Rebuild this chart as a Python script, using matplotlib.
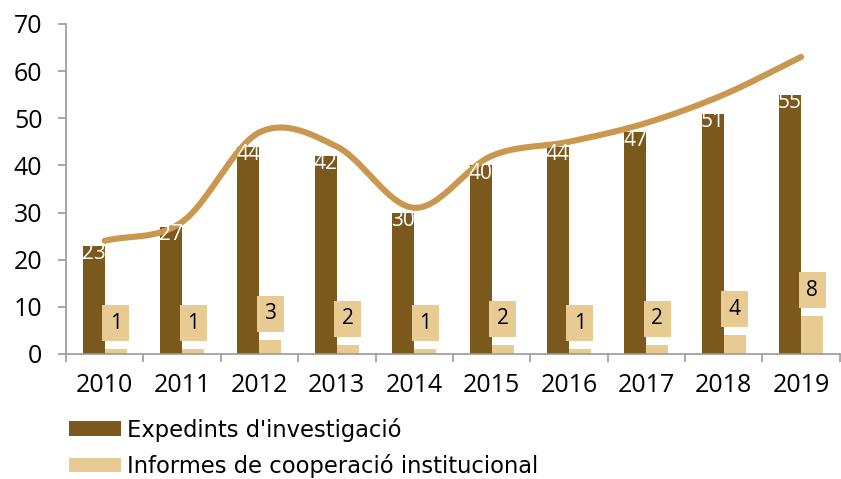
import matplotlib.pyplot as plt
import numpy as np

plt.rcParams['font.family'] = ['Open Sans', 'DejaVu Sans']

years = ['2010', '2011', '2012', '2013', '2014', '2015', '2016', '2017', '2018', '2019']
expedients = [23, 27, 44, 42, 30, 40, 44, 47, 51, 55]
informes = [1, 1, 3, 2, 1, 2, 1, 2, 4, 8]
totals = [24, 28, 47, 44, 31, 42, 45, 49, 55, 63]

dark = '#7B581C'
light = '#E8CB93'
line_col = '#C9984E'


def smooth(x, y, n=30):
    # catmull-rom curve through the points (like excel's smoothed line)
    x = np.asarray(x, float)
    y = np.asarray(y, float)
    px = np.concatenate([[2 * x[0] - x[1]], x, [2 * x[-1] - x[-2]]])
    py = np.concatenate([[2 * y[0] - y[1]], y, [2 * y[-1] - y[-2]]])
    xs, ys = [], []
    t = np.linspace(0, 1, n)
    for i in range(1, len(px) - 2):
        for p, out in ((px, xs), (py, ys)):
            p0, p1, p2, p3 = p[i - 1], p[i], p[i + 1], p[i + 2]
            out.extend(0.5 * (2 * p1 + (-p0 + p2) * t
                              + (2 * p0 - 5 * p1 + 4 * p2 - p3) * t ** 2
                              + (-p0 + 3 * p1 - 3 * p2 + p3) * t ** 3))
    return np.array(xs), np.array(ys)


fig = plt.figure(figsize=(8.41, 4.79), dpi=100)
ax = fig.add_axes([0.0785, 0.261, 0.92, 0.689])

x = np.arange(len(years))
w = 0.285
b1 = ax.bar(x - w / 2, expedients, w, color=dark, label="Expedints d'investigació", zorder=2)
b2 = ax.bar(x + w / 2, informes, w, color=light, label='Informes de cooperació institucional', zorder=2)

sx, sy = smooth(x, totals)
ax.plot(sx, sy, color=line_col, lw=4.4, solid_capstyle='round', zorder=3)

for xi, v in zip(x, expedients):
    ax.text(xi - w / 2, v + 0.6, str(v), color='white', ha='center', va='top',
            fontsize=15, zorder=4)
for xi, v in zip(x, informes):
    ax.text(xi + w / 2, v + 5.5, str(v), color='black', ha='center', va='center',
            fontsize=15, zorder=4,
            bbox=dict(boxstyle='square,pad=0.36', fc=light, ec='none'))

ax.set_xlim(-0.5, len(years) - 0.5)
ax.set_ylim(0, 70)
ax.set_yticks(range(0, 71, 10))
ax.set_xticks(x)
ax.set_xticklabels(years)
ax.set_xticks(np.arange(-0.5, len(years), 1), minor=True)
ax.tick_params(axis='x', which='major', length=0, labelsize=18, pad=14)
ax.tick_params(axis='x', which='minor', length=6, color='#999999', width=1.2)
ax.tick_params(axis='y', length=6, color='#999999', width=1.2, labelsize=18, pad=11)

for s in ['top', 'right']:
    ax.spines[s].set_visible(False)
for s in ['left', 'bottom']:
    ax.spines[s].set_color('#999999')
    ax.spines[s].set_linewidth(1.2)

fig.legend(handles=[b1, b2], loc='center left', bbox_to_anchor=(0.082, 0.065),
           frameon=False, prop={'family': ['DejaVu Sans'], 'size': 16.3},
           handlelength=2.3, handleheight=0.62,
           handletextpad=0.28, labelspacing=0.55, borderaxespad=0, borderpad=0)

fig.savefig('out.png', dpi=100)
